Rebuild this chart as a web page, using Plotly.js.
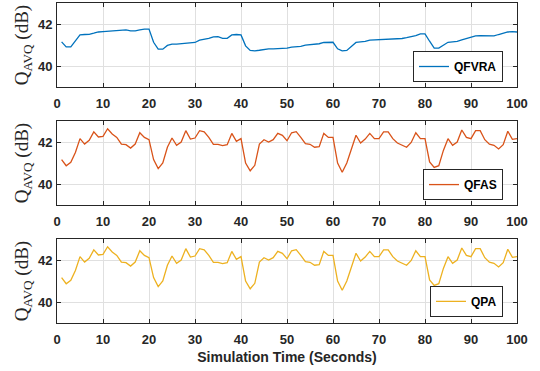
<!DOCTYPE html>
<html>
<head>
<meta charset="utf-8">
<script src="https://cdn.plot.ly/plotly-3.0.1.min.js"></script>
<style>html,body{margin:0;padding:0;background:#fff;}#chart{width:540px;height:371px;}</style>
</head>
<body>
<div id="chart"></div>
<script>
const time = Array.from({length: 100}, (_, i) => i + 1);

const qfvra = [41.15,40.91,40.91,41.18,41.48,41.50,41.51,41.56,41.62,41.64,
  41.65,41.69,41.70,41.70,41.72,41.67,41.67,41.72,41.76,41.76,
  41.13,40.80,40.80,40.98,41.04,41.04,41.06,41.09,41.10,41.12,
  41.23,41.26,41.32,41.39,41.40,41.32,41.32,41.48,41.50,41.48,
  40.96,40.74,40.72,40.75,40.79,40.82,40.82,40.83,40.85,40.85,
  40.90,40.91,40.93,40.99,41.01,41.01,41.06,41.12,41.13,41.13,
  40.82,40.72,40.74,40.93,41.12,41.15,41.17,41.23,41.24,41.26,
  41.28,41.29,41.29,41.31,41.31,41.35,41.39,41.45,41.53,41.53,
  41.18,40.85,40.85,40.99,41.13,41.15,41.17,41.24,41.31,41.35,
  41.43,41.45,41.45,41.43,41.43,41.50,41.56,41.62,41.64,41.62];

const qfas = [41.16,40.87,41.03,41.50,42.16,41.90,42.08,42.48,42.24,42.27,
  42.63,42.38,42.22,41.90,41.87,41.71,41.90,42.44,42.22,42.11,
  41.16,40.73,41.00,41.75,42.19,41.84,42.00,42.54,42.14,42.19,
  42.54,42.48,42.22,41.89,41.89,41.83,41.87,42.41,42.03,42.16,
  41.00,40.63,40.89,41.90,42.11,42.00,42.11,42.41,42.32,42.06,
  42.44,42.49,42.22,41.92,41.89,41.75,41.78,42.41,42.22,42.22,
  41.00,40.56,41.00,41.63,42.32,41.95,42.14,42.41,42.16,42.16,
  42.48,42.48,42.16,41.95,41.86,41.75,41.98,42.44,42.16,42.16,
  41.05,40.79,40.87,41.60,42.16,41.84,42.00,42.57,42.22,42.16,
  42.54,42.54,42.11,41.90,41.84,41.67,41.87,42.51,42.13,42.16];

const qpa = [41.16,40.87,41.03,41.50,42.16,41.90,42.08,42.48,42.24,42.27,
  42.63,42.38,42.22,41.90,41.87,41.71,41.90,42.44,42.22,42.11,
  41.16,40.73,41.00,41.75,42.19,41.84,42.00,42.54,42.14,42.19,
  42.54,42.48,42.22,41.89,41.89,41.83,41.87,42.41,42.03,42.16,
  41.00,40.63,40.89,41.90,42.11,42.00,42.11,42.41,42.32,42.06,
  42.44,42.49,42.22,41.92,41.89,41.75,41.78,42.41,42.22,42.22,
  41.00,40.56,41.00,41.63,42.32,41.95,42.14,42.41,42.16,42.16,
  42.48,42.48,42.16,41.95,41.86,41.75,41.98,42.44,42.16,42.16,
  41.05,40.79,40.87,41.60,42.16,41.84,42.00,42.57,42.22,42.16,
  42.54,42.54,42.11,41.90,41.84,41.67,41.87,42.51,42.13,42.16];

const seriesNames = ['QFVRA', 'QFAS', 'QPA'];
const xTicks = [0,10,20,30,40,50,60,70,80,90,100];
const yTicks = [40, 42];
const xTitle = 'Simulation Time (Seconds)';
const yTitle = 'Q<sub>AVQ</sub> (dB)';

const colors = ['#0072BD', '#D95319', '#EDB120'];
const data = [qfvra, qfas, qpa];
const axisColor = '#262626';

const traces = data.map((vals, i) => ({
  x: time, y: vals, type: 'scatter', mode: 'lines',
  name: seriesNames[i],
  line: {color: colors[i], width: 1.3},
  xaxis: i === 0 ? 'x' : 'x' + (i + 1),
  yaxis: i === 0 ? 'y' : 'y' + (i + 1),
  legend: i === 0 ? 'legend' : 'legend' + (i + 1)
}));

const domains = [[0.7375, 1], [0.36875, 0.63125], [0, 0.2625]];
const tickFont = {family: 'Liberation Sans, Arial, sans-serif', size: 13, color: axisColor, weight: 'bold'};

const layout = {
  width: 540, height: 371,
  margin: {l: 57, r: 23, t: 3, b: 48},
  paper_bgcolor: '#fff', plot_bgcolor: '#fff',
  showlegend: true
};

const legendTops = [0.85, 0.481, 0.116];

for (let i = 0; i < 3; i++) {
  const sx = i === 0 ? '' : String(i + 1);
  layout['xaxis' + sx] = {
    domain: [0, 1], anchor: 'y' + sx, range: [0, 100],
    tickvals: xTicks, ticktext: xTicks.map(String),
    ticks: 'inside', ticklen: 4, tickcolor: axisColor, tickwidth: 1,
    showline: true, linecolor: axisColor, linewidth: 1, mirror: 'ticks',
    showgrid: true, gridcolor: '#e0e0e0', gridwidth: 1, zeroline: false,
    tickfont: tickFont, ticklabelstandoff: 4,
    title: i === 2 ? {text: xTitle, font: {family: 'Liberation Sans, Arial, sans-serif', size: 14, color: axisColor, weight: 'bold'}, standoff: 6} : {text: ''}
  };
  layout['yaxis' + sx] = {
    domain: domains[i], anchor: 'x' + sx, range: [39, 43],
    tickvals: yTicks, ticktext: yTicks.map(String),
    ticks: 'inside', ticklen: 4, tickcolor: axisColor, tickwidth: 1,
    showline: true, linecolor: axisColor, linewidth: 1, mirror: 'ticks',
    showgrid: true, gridcolor: '#e0e0e0', gridwidth: 1, zeroline: false,
    tickfont: tickFont, ticklabelstandoff: 1,
    title: {text: yTitle, font: {family: 'Liberation Serif, Times New Roman, serif', size: 19, color: axisColor}, standoff: 4}
  };
  layout['legend' + sx] = {
    x: 0.9696, xanchor: 'right', xref: 'paper',
    y: legendTops[i], yanchor: 'top', yref: 'paper',
    bgcolor: '#fff', bordercolor: axisColor, borderwidth: 1,
    font: {family: 'Liberation Sans, Arial, sans-serif', size: 12, color: '#000', weight: 'bold'},
    itemwidth: 30, tracegroupgap: 0
  };
}

Plotly.newPlot('chart', traces, layout, {staticPlot: true, displayModeBar: false});
</script>
</body>
</html>
